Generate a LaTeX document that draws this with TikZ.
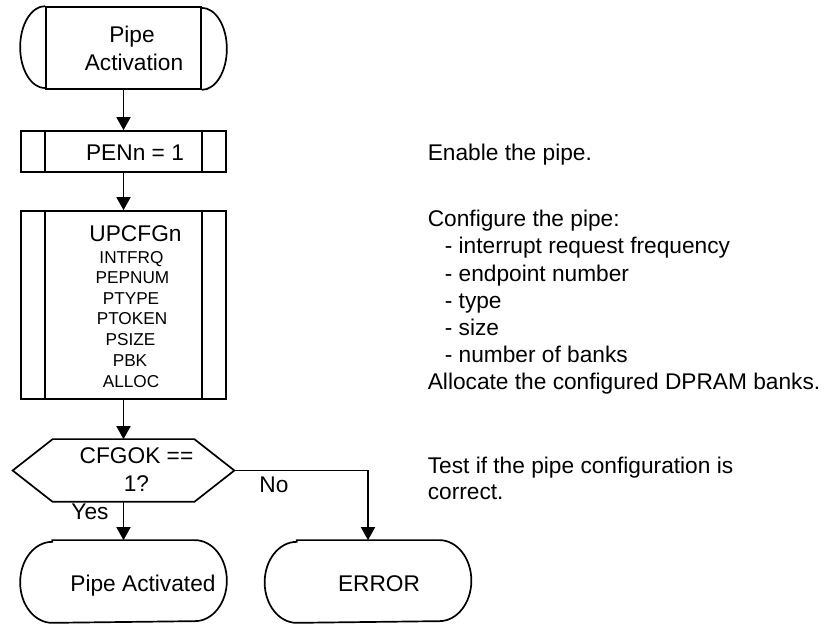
\documentclass[tikz,border=0pt]{standalone}
\usepackage{fontspec}
\setmainfont{Liberation Sans}
\usetikzlibrary{arrows.meta}
\begin{document}
\begin{tikzpicture}[x=1pt,y=1pt,
  line width=1.7pt,
  procbox/.style={draw, rectangle, minimum width=205pt, minimum height=#1, inner sep=0pt},
  ghost/.style={rectangle, minimum width=#1, inner sep=0pt},
  txt/.style={font=\fontsize{22.7}{27}\selectfont, inner sep=0pt, anchor=base},
  small/.style={font=\fontsize{17.2}{20}\selectfont, inner sep=0pt, anchor=base},
  rtxt/.style={txt, anchor=base west},
  arr/.style={-{Triangle[length=13pt,width=14pt]}}]
\useasboundingbox (0,0) rectangle (826,623);

% start terminator
\node[draw, rectangle, minimum width=155pt, minimum height=82pt, inner sep=0pt] (start) at (123.5,575) {};
\draw (start.north west) arc[start angle=90, end angle=270, x radius=25, y radius=41];
\draw (start.south east) arc[start angle=-90, end angle=90, x radius=25, y radius=41];
\node[txt] (startA) at (132,580) {Pipe};
\node[txt] (startB) at (134,552) {Activation};

% PENn = 1
\node[procbox=41pt] (pen) at (123.5,471.5) {};
\draw ([xshift=25]pen.north west) -- ([xshift=25]pen.south west);
\draw ([xshift=-25]pen.north east) -- ([xshift=-25]pen.south east);
\node[txt] (penT) at (135,462) {PENn = 1};

% UPCFGn
\node[procbox=188pt] (cfg) at (123.5,318) {};
\draw ([xshift=25]cfg.north west) -- ([xshift=25]cfg.south west);
\draw ([xshift=-25]cfg.north east) -- ([xshift=-25]cfg.south east);
\node[txt] (cfgT) at (135.5,381.3) {UPCFGn};
\node[small] (s1) at (131.5,359.5) {INTFRQ};
\node[small] (s2) at (132.5,339) {PEPNUM};
\node[small] (s3) at (131,318.5) {PTYPE};
\node[small] (s4) at (132,298) {PTOKEN};
\node[small] (s5) at (130.5,277.3) {PSIZE};
\node[small] (s6) at (130,256.5) {PBK};
\node[small] (s7) at (131,235.5) {ALLOC};

% decision
\node[ghost=220pt, minimum height=61pt] (dec) at (123.5,152.5) {};
\draw (dec.west) -- ([xshift=40]dec.north west) -- ([xshift=-40]dec.north east)
  -- (dec.east) -- ([xshift=-40]dec.south east) -- ([xshift=40]dec.south west) -- cycle;
\node[txt] (decA) at (136.5,159) {CFGOK ==};
\node[txt] (decB) at (136.5,131) {1?};

% end terminators
\node[ghost=205pt, minimum height=81pt] (ok) at (123.5,41.5) {};
\draw ([xshift=32]ok.north west) -- ([xshift=-32]ok.north east)
  arc[start angle=90, end angle=-90, x radius=32, y radius=40.5]
  -- ([xshift=32]ok.south west)
  arc[start angle=270, end angle=90, x radius=32, y radius=40.5] -- cycle;
\node[txt] (okT) at (143,31.5) {Pipe Activated};

\node[ghost=205pt, minimum height=81pt] (err) at (368,41.5) {};
\draw ([xshift=32]err.north west) -- ([xshift=-32]err.north east)
  arc[start angle=90, end angle=-90, x radius=32, y radius=40.5]
  -- ([xshift=32]err.south west)
  arc[start angle=270, end angle=90, x radius=32, y radius=40.5] -- cycle;
\node[txt] (errT) at (379,31.5) {ERROR};

% connectors
\draw[arr] (start) -- (pen);
\draw[arr] (pen) -- (cfg);
\draw[arr] (cfg) -- (dec);
\draw[arr] (dec) -- (ok);
\draw[arr] (dec.east) -| (err);
\node[txt] (yes) at (90,103) {Yes};
\node[txt] (no) at (274,130) {No};

% right-hand notes
\node[rtxt] (n1) at (427,462.3) {Enable the pipe.};
\node[rtxt] (n2) at (427,396.3) {Configure the pipe:};
\node[rtxt] (n3) at (444,369.1) {- interrupt request frequency};
\node[rtxt] (n4) at (444,341.9) {- endpoint number};
\node[rtxt] (n5) at (444,314.7) {- type};
\node[rtxt] (n6) at (444,287.5) {- size};
\node[rtxt] (n7) at (444,260.3) {- number of banks};
\node[rtxt] (n8) at (427,233.1) {Allocate the configured DPRAM banks.};
\node[rtxt] (n9) at (427,149.7) {Test if the pipe configuration is};
\node[rtxt] (n10) at (427,123) {correct.};
\end{tikzpicture}
\end{document}
